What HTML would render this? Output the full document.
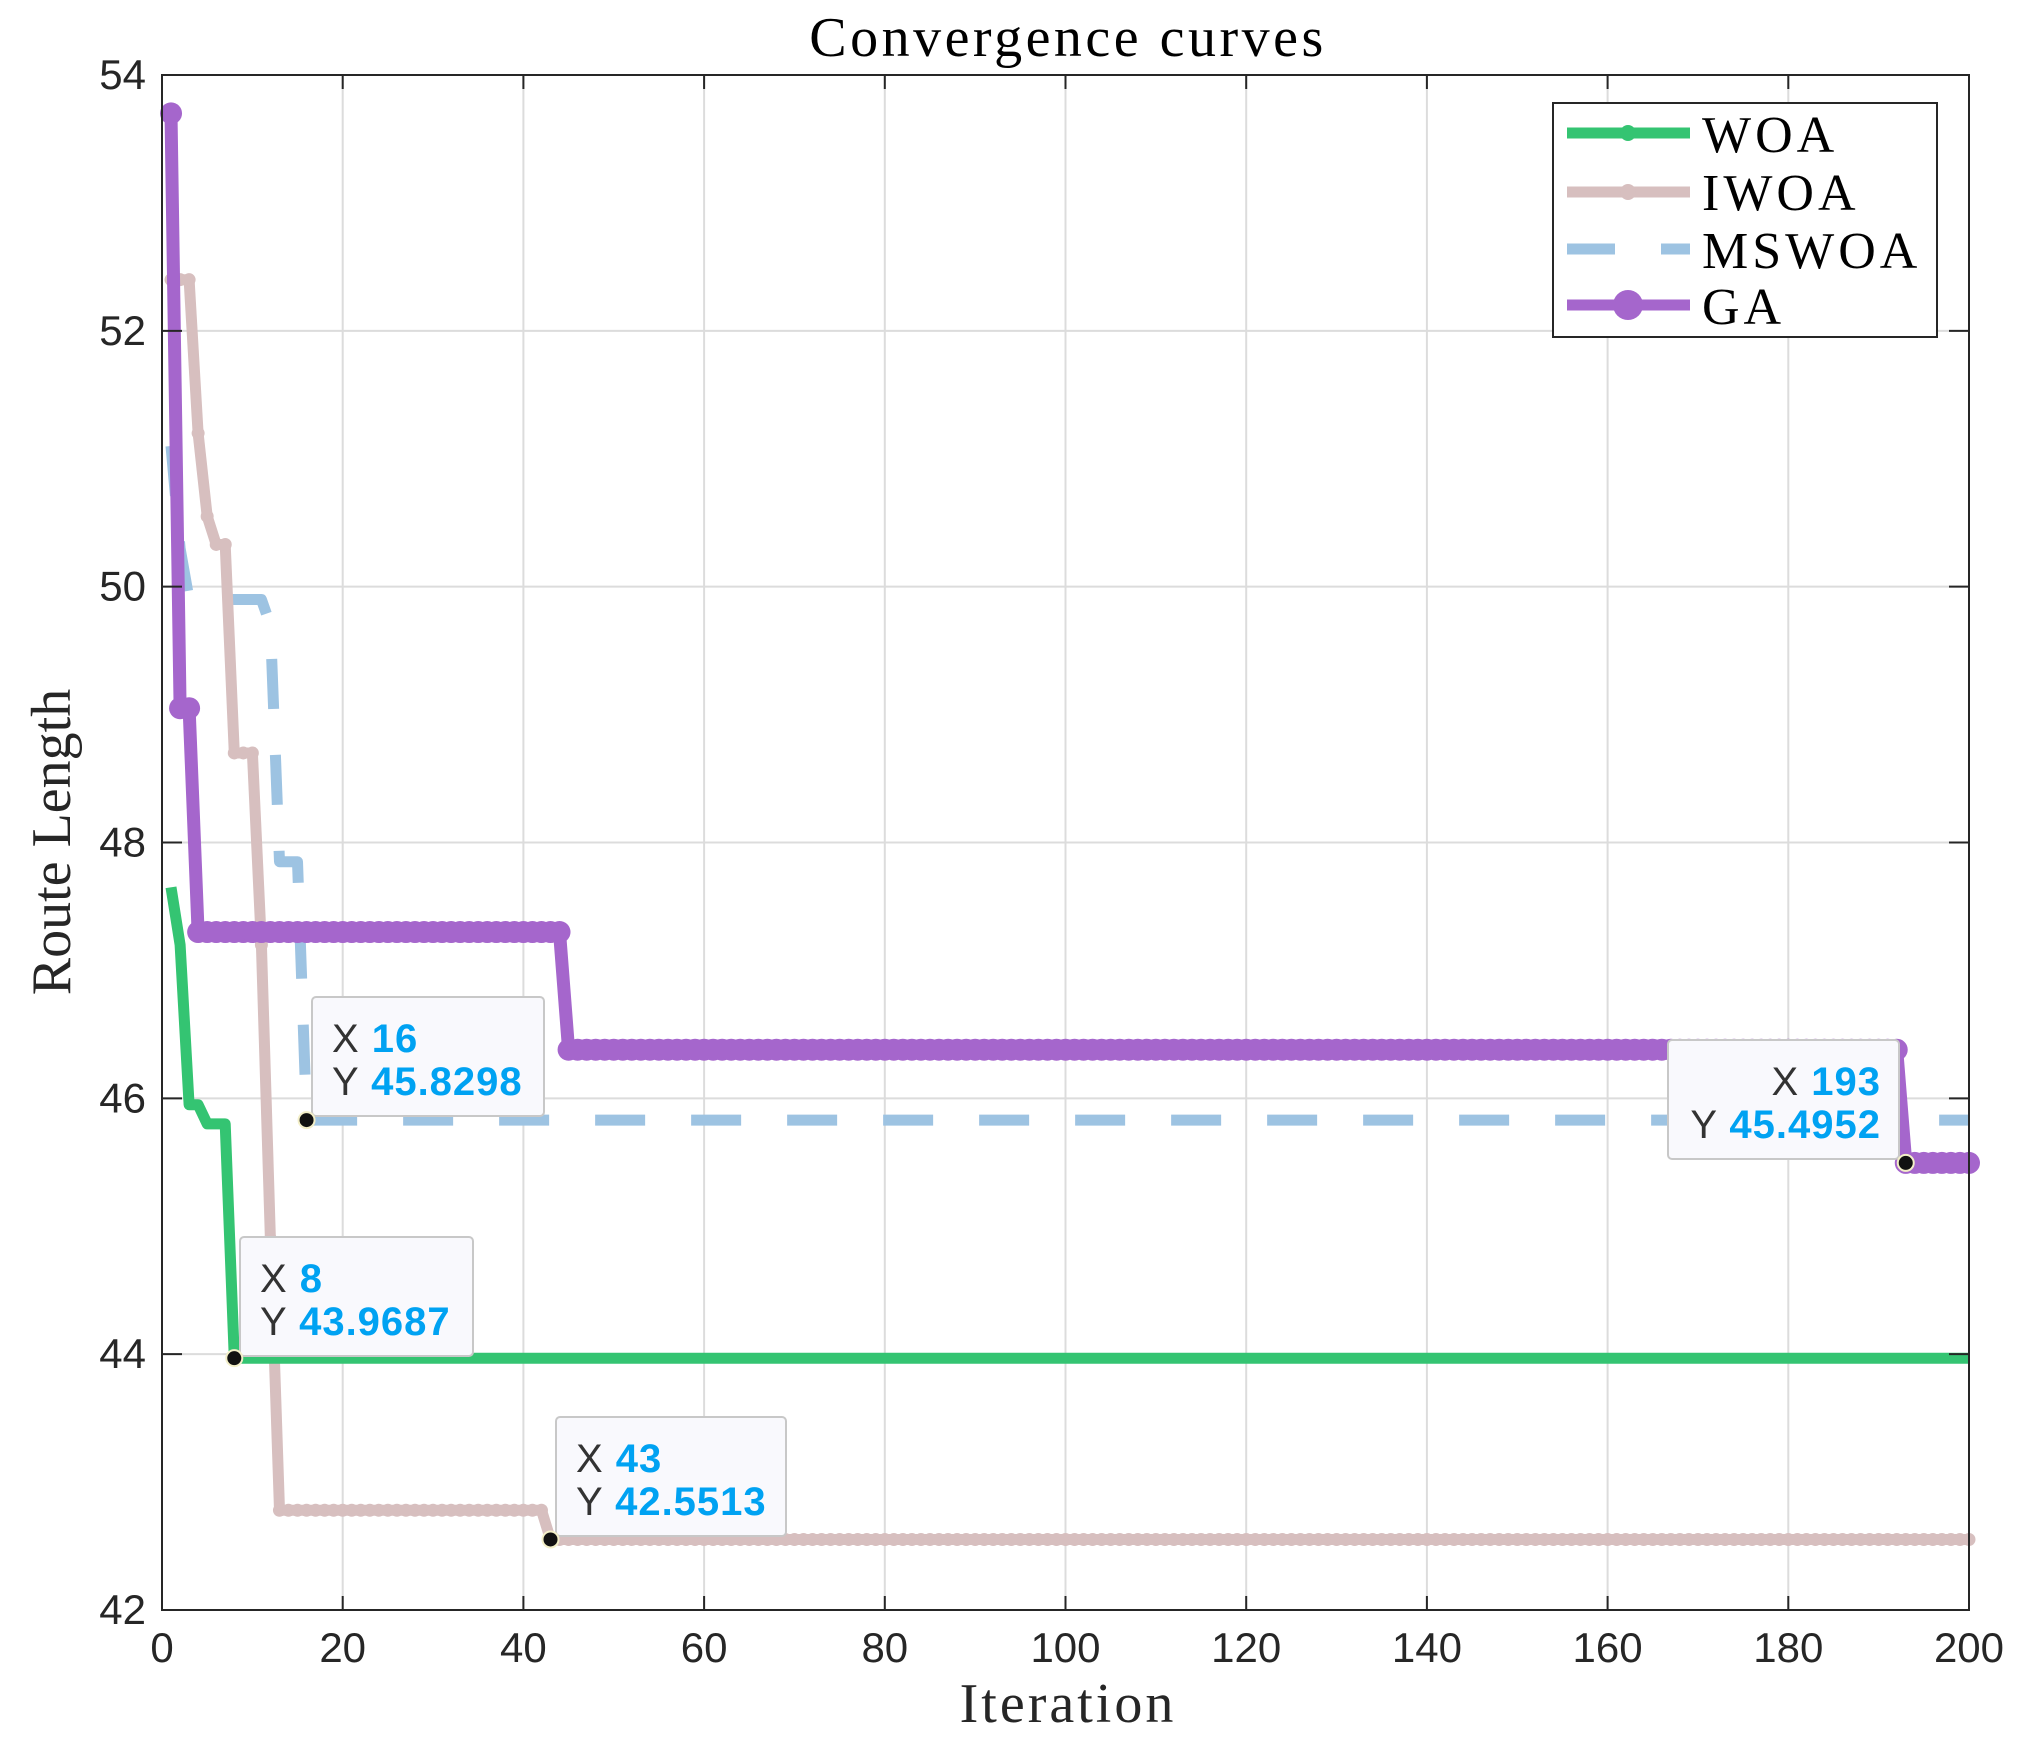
<!DOCTYPE html>
<html><head><meta charset="utf-8"><style>
html,body{margin:0;padding:0;background:#fff;}
svg{display:block;}
</style></head><body>
<svg id="chart" width="2032" height="1746" xmlns="http://www.w3.org/2000/svg">
<rect x="0" y="0" width="2032" height="1746" fill="#fff"/>
<g id="grid"></g>
<g id="series"></g>
<rect x="162" y="75" width="1807" height="1535" fill="none" stroke="#262626" stroke-width="2"/>
<g id="ticks"></g>
<text x="1068" y="56" font-family="Liberation Serif, serif" font-size="56" letter-spacing="3.5" text-anchor="middle" fill="#000">Convergence curves</text>
<text x="1068" y="1722" font-family="Liberation Serif, serif" font-size="56" letter-spacing="3" text-anchor="middle" fill="#262626">Iteration</text>
<text x="0" y="0" transform="translate(70,842) rotate(-90)" font-family="Liberation Serif, serif" font-size="56" text-anchor="middle" fill="#262626">Route Length</text>
<g id="legend">
<rect x="1553" y="103" width="384" height="234" fill="#fff" stroke="#262626" stroke-width="2"/>
<line x1="1567" y1="133" x2="1690" y2="133" stroke="#34c472" stroke-width="11"/><circle cx="1628" cy="133" r="8" fill="#34c472"/>
<text x="1702" y="152" font-family="Liberation Serif, serif" font-size="52" letter-spacing="4">WOA</text>
<line x1="1567" y1="192" x2="1690" y2="192" stroke="#d7bfbf" stroke-width="11"/><circle cx="1628" cy="192" r="8" fill="#d7bfbf"/>
<text x="1702" y="210" font-family="Liberation Serif, serif" font-size="52" letter-spacing="4">IWOA</text>
<line x1="1567" y1="249" x2="1615" y2="249" stroke="#9dc3e2" stroke-width="11"/><line x1="1661" y1="249" x2="1690" y2="249" stroke="#9dc3e2" stroke-width="11"/>
<text x="1702" y="268" font-family="Liberation Serif, serif" font-size="52" letter-spacing="4">MSWOA</text>
<line x1="1567" y1="305" x2="1690" y2="305" stroke="#a566cc" stroke-width="11"/><circle cx="1628" cy="305" r="15" fill="#a566cc"/>
<text x="1702" y="324" font-family="Liberation Serif, serif" font-size="52" letter-spacing="4">GA</text>
</g>
<g id="tips"></g>
</svg>
<script>
const xTicks = [0,20,40,60,80,100,120,140,160,180,200];
const yTicks = [42,44,46,48,50,52,54];
const iterations = 200;
const woaIters = [1,2,3,5,8];
const woaVals = [47.65,47.2,45.95,45.8,43.9687];
const iwoaIters = [1,4,5,6,8,11,12,13,43];
const iwoaVals = [52.4,51.2,50.55,50.33,48.7,47.2,44.9,42.78,42.5513];
const mswoaIters = [1,2,3,12,13,16];
const mswoaVals = [51.1,50.3,49.9,49.7,47.85,45.8298];
const gaIters = [1,2,4,45,193];
const gaVals = [53.7,49.05,47.3,46.38,45.4952];
const tipX = [16,8,43,193];
const tipY = [45.8298,43.9687,42.5513,45.4952];

const L=162,R=1969,T=75,B=1610;
const sx=v=>L+(v-0)/(200-0)*(R-L);
const sy=v=>B-(v-42)/(54-42)*(B-T);
const NS='http://www.w3.org/2000/svg';
function mk(tag,attrs,parent){const e=document.createElementNS(NS,tag);for(const k in attrs)e.setAttribute(k,attrs[k]);parent.appendChild(e);return e;}
const grid=document.getElementById('grid'),ticks=document.getElementById('ticks');
xTicks.forEach(t=>{
  const x=sx(t);
  if(t>0&&t<200){const g=mk('line',{x1:x,y1:T,x2:x,y2:B,stroke:'#dcdcdc','stroke-width':2},grid);
  
  }
  mk('line',{x1:x,y1:B,x2:x,y2:B-14,stroke:'#262626','stroke-width':2},ticks);
  mk('line',{x1:x,y1:T,x2:x,y2:T+14,stroke:'#262626','stroke-width':2},ticks);
  const tx=mk('text',{x:x,y:B+52,'font-family':'Liberation Sans, sans-serif','font-size':42,'text-anchor':'middle',fill:'#262626'},ticks);
  tx.textContent=t;
  
  
});
yTicks.forEach(t=>{
  const y=sy(t);
  if(t>42&&t<54){const g=mk('line',{x1:L,y1:y,x2:R,y2:y,stroke:'#dcdcdc','stroke-width':2},grid);
  
  }
  mk('line',{x1:L,y1:y,x2:L+20,y2:y,stroke:'#262626','stroke-width':2},ticks);
  mk('line',{x1:R,y1:y,x2:R-20,y2:y,stroke:'#262626','stroke-width':2},ticks);
  const tx=mk('text',{x:L-16,y:y+14,'font-family':'Liberation Sans, sans-serif','font-size':42,'text-anchor':'end',fill:'#262626'},ticks);
  tx.textContent=t;
  
  
});
function expand(its,vals){const out=[];let j=0;for(let i=1;i<=iterations;i++){while(j+1<its.length&&its[j+1]<=i)j++;out.push(vals[j]);}return out;}
const ser=document.getElementById('series');
function draw(name,its,vals,color,w,dash,mr){
  const d=expand(its,vals);
  const g=mk('g',{},ser);
  
  
  const pts=d.map((v,i)=>sx(i+1).toFixed(1)+','+sy(v).toFixed(1)).join(' ');
  const a={points:pts,fill:'none',stroke:color,'stroke-width':w,'stroke-linejoin':'round'};
  if(dash)a['stroke-dasharray']=dash;
  const pl=mk('polyline',a,g);
  
  
  if(mr)d.forEach((v,i)=>{mk('circle',{cx:sx(i+1),cy:sy(v),r:mr,fill:color},g);});
}
draw('mswoa',mswoaIters,mswoaVals,'#9dc3e2',11,'50 46',0);
draw('iwoa',iwoaIters,iwoaVals,'#d7bfbf',11,null,6.5);
draw('woa',woaIters,woaVals,'#34c472',11,null,0);
draw('ga',gaIters,gaVals,'#a566cc',13,null,11);
const tips=document.getElementById('tips');
const boxes=[[312,997,232,119,false],[240,1237,233,119,false],[556,1417,230,119,false],[1668,1040,231,119,true]];
tipX.forEach((xv,k)=>{
  const [bx,by,bw,bh,right]=boxes[k];
  const g=mk('g',{},tips);
  
  
  mk('rect',{x:bx,y:by,width:bw,height:bh,rx:4,fill:'#f9f9fd',stroke:'#c8c8c8','stroke-width':2},g);
  const lines=[['X ',String(xv)],['Y ',String(tipY[k])]];
  lines.forEach((ln,r)=>{
    const t=mk('text',{x:right?bx+bw-18:bx+20,y:by+55+r*43,'font-family':'Liberation Sans, sans-serif','font-size':40,'letter-spacing':1,'text-anchor':right?'end':'start',fill:'#333'},g);
    const s1=mk('tspan',{},t);s1.textContent=ln[0];
    const s2=mk('tspan',{fill:'#00a2f2','font-weight':'bold'},t);s2.textContent=ln[1];
  });
  mk('circle',{cx:sx(xv),cy:sy(tipY[k]),r:8,fill:'#111',stroke:'#f3efc8','stroke-width':2},g);
});
</script>
</body></html>
